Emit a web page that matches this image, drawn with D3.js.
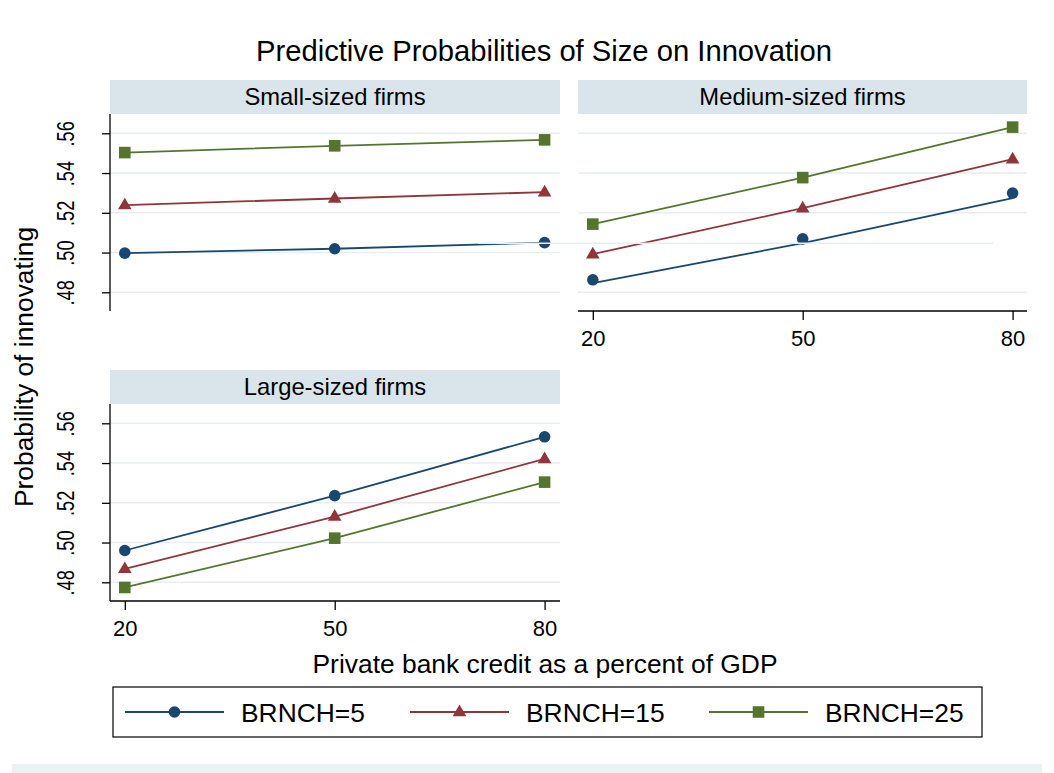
<!DOCTYPE html>
<html><head><meta charset="utf-8">
<script src="https://cdn.jsdelivr.net/npm/d3@7"></script>
<style>
body{margin:0;background:#fff}
svg{display:block}
text{font-family:"Liberation Sans",Arial,Helvetica,sans-serif;fill:#000}
</style>
</head><body>
<svg id="c" width="1054" height="773"></svg>
<script>
// ---------- data ----------
const xValues = [20, 50, 80];
const xTicks = [20, 50, 80];
const yTicks = [0.48, 0.50, 0.52, 0.54, 0.56];
const panelTitles = ["Small-sized firms", "Medium-sized firms", "Large-sized firms"];
const seriesNames = ["BRNCH=5", "BRNCH=15", "BRNCH=25"];
const small5  = [0.4997, 0.5019, 0.5050];
const small15 = [0.5239, 0.5272, 0.5304];
const small25 = [0.5503, 0.5537, 0.5567];
const medium5 = [0.4863, 0.5069, 0.5299];
const medium5Line = [0.4846, 0.5047, 0.5274];
const medium15 = [0.4992, 0.5223, 0.5470];
const medium25 = [0.5143, 0.5377, 0.5631];
const large5  = [0.4960, 0.5236, 0.5532];
const large15 = [0.4868, 0.5131, 0.5421];
const large25 = [0.4774, 0.5022, 0.5304];
const titleText = "Predictive Probabilities of Size on Innovation";
const xTitle = "Private bank credit as a percent of GDP";
const yTitle = "Probability of innovating";

// ---------- style ----------
const colors = ["#1a476f", "#90353b", "#55752f"];
const shapes = ["circle", "triangle", "square"];
const stripFill = "#d9e5eb";
const gridColor = "#e6eef1";
const FONT = '"Liberation Sans",Arial,Helvetica,sans-serif';

const svg = d3.select("#c");

// ---------- layout ----------
const layout = [
  {x0:110, x1:560, top:80, yAxis:true,  xAxis:false, skipGrid:null,
   series:[{p:small5,l:small5},{p:small15,l:small15},{p:small25,l:small25}]},
  {x0:578, x1:1027, top:80, yAxis:false, xAxis:true, skipGrid:0.50,
   series:[{p:medium5,l:medium5Line},{p:medium15,l:medium15},{p:medium25,l:medium25}]},
  {x0:110, x1:560, top:370, yAxis:true,  xAxis:true, skipGrid:null,
   series:[{p:large5,l:large5},{p:large15,l:large15},{p:large25,l:large25}]}
];
const stripH = 34, plotH = 197;

function marker(g, shape, x, y, color, s) {
  s = s || 1;
  if (shape === "circle") {
    g.append("circle").attr("cx", x).attr("cy", y).attr("r", 5.8*s).attr("fill", color);
  } else if (shape === "square") {
    const h = 5.8*s;
    g.append("rect").attr("x", x-h).attr("y", y-h).attr("width", 2*h).attr("height", 2*h).attr("fill", color);
  } else {
    g.append("path").attr("d", `M${x},${y-7.4*s}L${x+6.8*s},${y+4.3*s}L${x-6.8*s},${y+4.3*s}Z`).attr("fill", color);
  }
}

layout.forEach((P, pi) => {
  const plotTop = P.top + stripH, plotBottom = plotTop + plotH;
  const x = d3.scaleLinear().domain([20, 80]).range([P.x0 + 14.8, P.x0 + 434.6]);
  const y = d3.scaleLinear().domain([0.48, 0.56]).range([P.top + 212.3, P.top + 53.3]);
  const g = svg.append("g");

  // strip
  g.append("rect").attr("x", P.x0).attr("y", P.top).attr("width", P.x1 - P.x0).attr("height", stripH).attr("fill", stripFill);
  g.append("text").attr("x", (P.x0 + P.x1)/2).attr("y", P.top + 25).attr("text-anchor", "middle")
    .style("font-size", "23.8px").text(panelTitles[pi]);

  // gridlines
  g.selectAll(".grid").data(yTicks.filter(t => t !== P.skipGrid)).enter().append("line")
    .attr("x1", P.x0).attr("x2", P.x1).attr("y1", d => y(d)).attr("y2", d => y(d))
    .attr("stroke", gridColor).attr("stroke-width", 1.6);
  if (pi === 1) {
    // stray faint line seen in the reference
    svg.append("line").attr("x1", 478).attr("x2", 993).attr("y1", y(medium5Line[1])).attr("y2", y(medium5Line[1]))
      .attr("stroke", gridColor).attr("stroke-width", 1.6);
  }

  // y axis
  if (P.yAxis) {
    const ya = g.append("g").attr("transform", `translate(${P.x0},0)`)
      .call(d3.axisLeft(y).tickValues(yTicks).tickSize(8).tickFormat(d => d3.format(".2f")(d).replace(/^0/, "")));
    ya.select(".domain").remove();
    ya.selectAll(".tick line").attr("stroke", "#000").attr("stroke-width", 1.3);
    ya.selectAll(".tick text").attr("x", null).attr("dy", null).attr("text-anchor", "middle")
      .attr("fill", "#000").style("font-family", FONT).style("font-size", "24px")
      .attr("transform", "translate(-36,0) rotate(-90) scale(0.76,1)");
    g.append("line").attr("x1", P.x0).attr("x2", P.x0).attr("y1", plotTop).attr("y2", plotBottom)
      .attr("stroke", "#000").attr("stroke-width", 1.3);
  }
  // x axis
  if (P.xAxis) {
    const xa = g.append("g").attr("transform", `translate(0,${plotBottom})`)
      .call(d3.axisBottom(x).tickValues(xTicks).tickSize(9).tickFormat(d3.format("d")));
    xa.select(".domain").remove();
    xa.selectAll(".tick line").attr("stroke", "#000").attr("stroke-width", 1.3);
    xa.selectAll(".tick text").attr("dy", null).attr("y", 35).attr("fill", "#000")
      .style("font-family", FONT).style("font-size", "22px");
    g.append("line").attr("x1", P.x0).attr("x2", P.x1).attr("y1", plotBottom).attr("y2", plotBottom)
      .attr("stroke", "#000").attr("stroke-width", 1.3);
  }

  // series
  const line = d3.line().x((d, i) => x(xValues[i])).y(d => y(d));
  P.series.forEach((s, si) => {
    g.append("path").attr("d", line(s.l)).attr("fill", "none").attr("stroke", colors[si]).attr("stroke-width", 1.8);
  });
  P.series.forEach((s, si) => {
    s.p.forEach((v, i) => marker(g, shapes[si], x(xValues[i]), y(v), colors[si]));
  });
});

// titles
svg.append("text").attr("x", 544).attr("y", 61).attr("text-anchor", "middle").style("font-size", "29.2px").text(titleText);
svg.append("text").attr("x", 545).attr("y", 673).attr("text-anchor", "middle").style("font-size", "26.4px").text(xTitle);
svg.append("text").attr("transform", "translate(33,367) rotate(-90)").attr("text-anchor", "middle").style("font-size", "26.4px").text(yTitle);

// legend
const lg = svg.append("g");
lg.append("rect").attr("x", 113).attr("y", 687).attr("width", 869).attr("height", 50)
  .attr("fill", "#fff").attr("stroke", "#000").attr("stroke-width", 1.2);
const legX = [125, 410, 709];
seriesNames.forEach((n, i) => {
  const lx = legX[i];
  lg.append("line").attr("x1", lx).attr("x2", lx + 99).attr("y1", 712).attr("y2", 712)
    .attr("stroke", colors[i]).attr("stroke-width", 2);
  marker(lg, shapes[i], lx + 49.5, 712, colors[i]);
  lg.append("text").attr("x", lx + 116).attr("y", 721.5).style("font-size", "26.4px").text(n);
});

// bottom band
svg.append("rect").attr("x", 12).attr("y", 764).attr("width", 1030).attr("height", 9).attr("fill", "#eaf2f3");
</script>
</body></html>
